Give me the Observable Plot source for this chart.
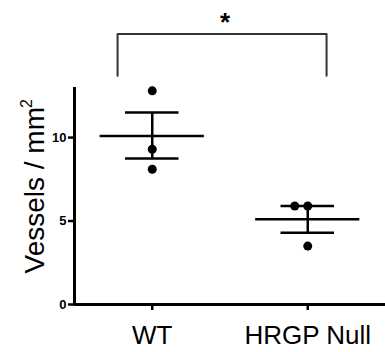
<!DOCTYPE html>
<html><head><meta charset="utf-8">
<script src="https://cdn.jsdelivr.net/npm/d3@7"></script>
<script src="https://cdn.jsdelivr.net/npm/@observablehq/plot@0.6"></script>
<style>body{margin:0;background:#fff}</style>
</head><body><div id="chart"></div>
<script>
const groups = ["WT", "HRGP Null"];
const wtValues = [12.8, 9.3, 8.1];
const nullValues = [5.9, 5.9, 3.5];
const means = [10.1, 5.1];
const semLow = [8.75, 4.3];
const semHigh = [11.5, 5.9];
const yTicks = [0, 5, 10];
const yLabel = "Vessels / mm";
const yLabelSup = "2";
const significance = "*";

const points = [
  ...wtValues.map((v, i) => ({g: 0, v, i})),
  ...nullValues.map((v, i) => ({g: 1, v, i}))
];
const summary = groups.map((name, k) => ({k, mean: means[k], lo: semLow[k], hi: semHigh[k]}));
const pos = k => k + 1;
const meanHalf = 0.335, capHalf = 0.172;
const bL = 0.777, bR = 2.121, bTop = 16.2, bBot = 13.7;
const bracket = [{x: bL, y: bBot}, {x: bL, y: bTop}, {x: bR, y: bTop}, {x: bR, y: bBot}];
const shifted = d => d.g === 1 && d.i === 0;

const chart = Plot.plot({
  width: 385, height: 352,
  marginLeft: 74, marginRight: 0, marginTop: 87, marginBottom: 48,
  style: {fontFamily: "'Liberation Sans', Arial, sans-serif", background: "#fff", color: "#000", overflow: "visible"},
  x: {type: "linear", domain: [0.5, 2.5], axis: null},
  y: {domain: [0, 13], axis: null},
  marks: [
    Plot.axisY(yTicks, {tickSize: 6, tickPadding: 2, fontSize: 13, fontWeight: "bold", strokeWidth: 2.5, label: null}),
    Plot.axisX([1, 2], {tickSize: 6, tickPadding: 15, fontSize: 26, tickFormat: d => groups[d - 1], strokeWidth: 2.5, label: null}),
    Plot.ruleX([0.5], {y1: 0, y2: 13, strokeWidth: 3}),
    Plot.ruleY([0], {x1: 0.5, x2: 2.5, strokeWidth: 3}),
    Plot.ruleY(summary, {y: "mean", x1: d => pos(d.k) - meanHalf, x2: d => pos(d.k) + meanHalf, strokeWidth: 2.5}),
    Plot.ruleY(summary, {y: "lo", x1: d => pos(d.k) - capHalf, x2: d => pos(d.k) + capHalf, strokeWidth: 2.5}),
    Plot.ruleY(summary, {y: "hi", x1: d => pos(d.k) - capHalf, x2: d => pos(d.k) + capHalf, strokeWidth: 2.5}),
    Plot.ruleX(summary, {x: d => pos(d.k), y1: "lo", y2: "hi", strokeWidth: 2.5}),
    Plot.dot(points.filter(d => !shifted(d)), {x: d => pos(d.g), y: "v", r: 4.5, fill: "#000"}),
    Plot.dot(points.filter(shifted), {x: d => pos(d.g), y: "v", r: 4.5, fill: "#000", dx: -13}),
    Plot.line(bracket, {x: "x", y: "y", stroke: "#333", strokeWidth: 2}),
    Plot.text([significance], {x: (bL + bR) / 2 + 0.02, y: 17.5, text: d => d, lineAnchor: "top", fontSize: 26, fontWeight: "bold"}),
    Plot.text([yLabel], {frameAnchor: "left", text: d => d, rotate: -90, textAnchor: "start", lineAnchor: "bottom", dx: -31, dy: 77.5, fontSize: 28}),
    Plot.text([yLabelSup], {frameAnchor: "left", text: d => d, rotate: -90, textAnchor: "start", lineAnchor: "bottom", dx: -43, dy: -88, fontSize: 16})
  ]
});
document.getElementById("chart").appendChild(chart);
</script>
</body></html>
